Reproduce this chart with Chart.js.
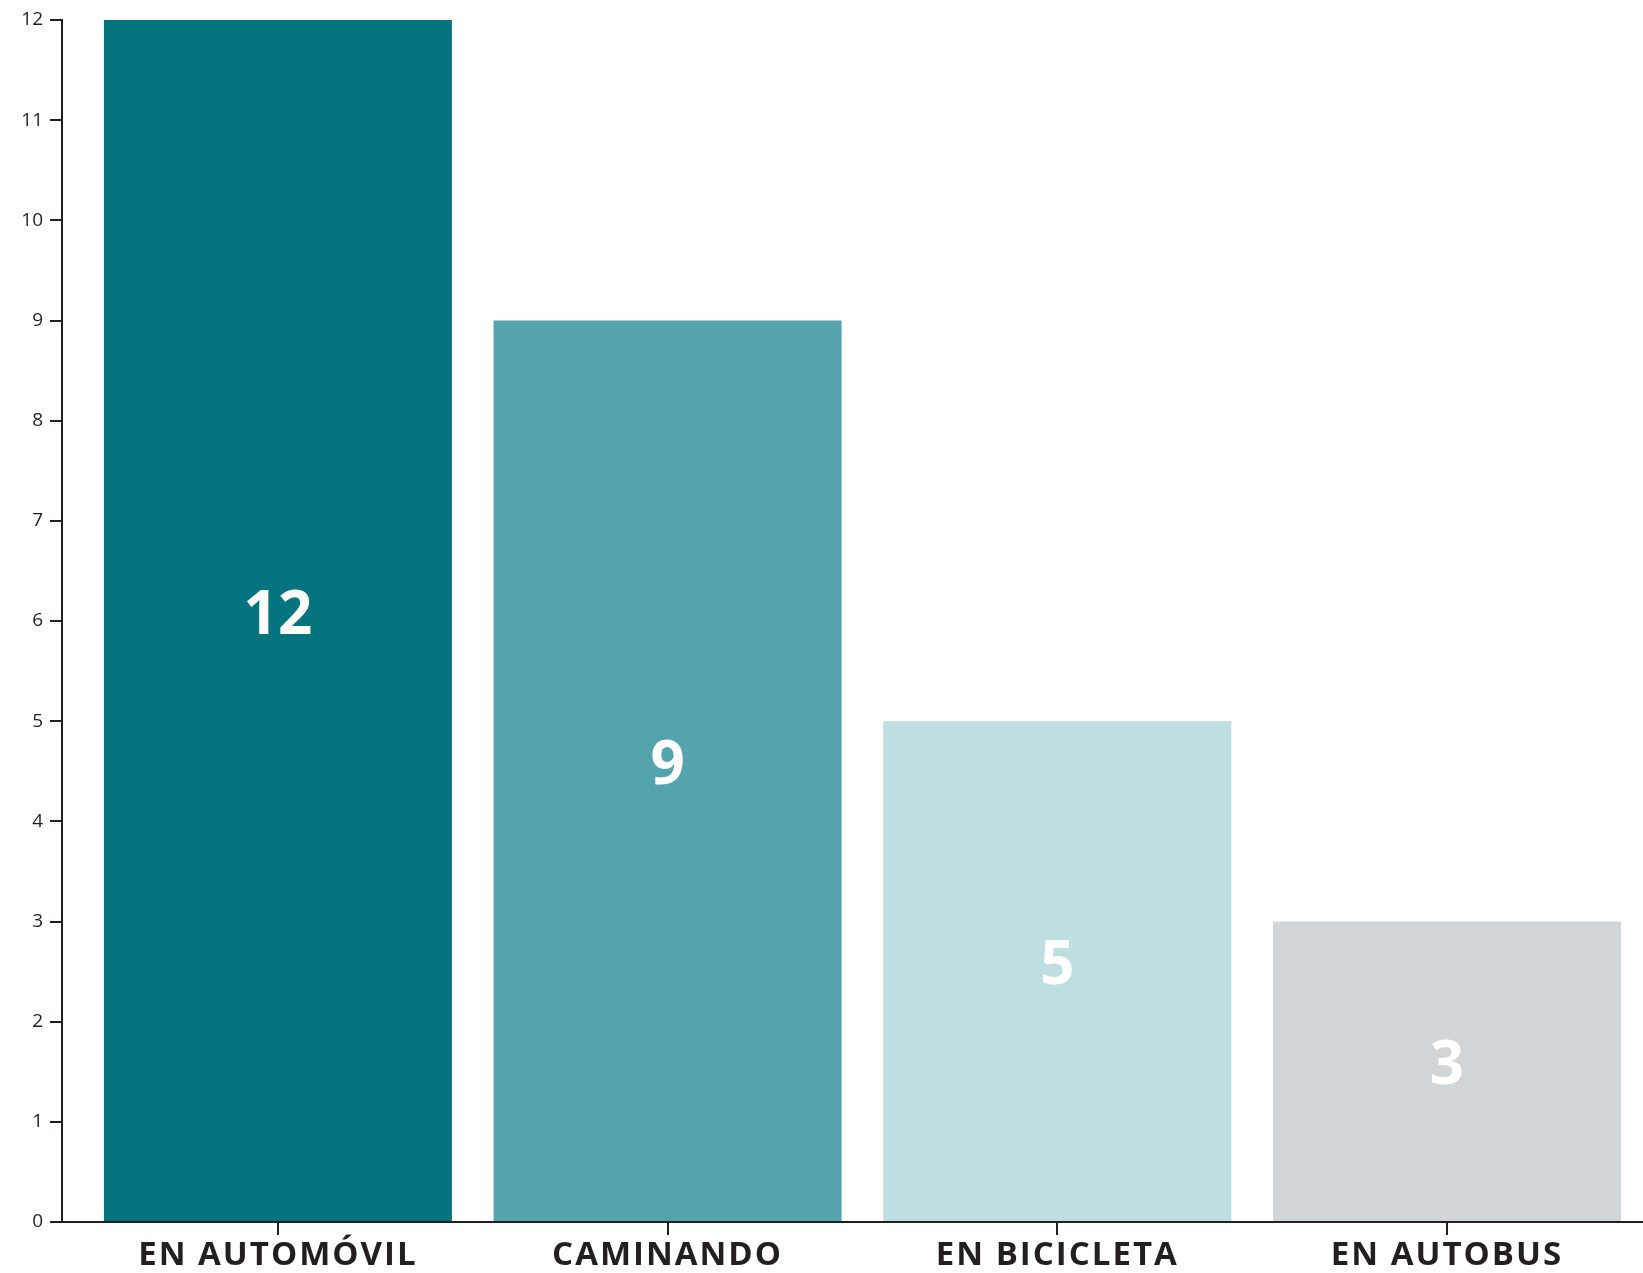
<!DOCTYPE html>
<html>
<head>
<meta charset="utf-8">
<script src="https://cdn.jsdelivr.net/npm/chart.js@4.4.1/dist/chart.umd.min.js"></script>
<style>
  html, body { margin: 0; padding: 0; background: #fff; }
  #wrap { width: 1643px; height: 1273px; position: relative; }
</style>
</head>
<body>
<div id="wrap"><canvas id="chartModos"></canvas></div>
<script>
// data
var categories = ['EN AUTOMÓVIL', 'CAMINANDO', 'EN BICICLETA', 'EN AUTOBUS'];
var values = [12, 9, 5, 3];
var barColors = ['#03747d', '#55a4ad', '#bedee2', '#d1d5d8'];
var yTickValues = [0, 1, 2, 3, 4, 5, 6, 7, 8, 9, 10, 11, 12];

var inkColor = '#231f20';

Chart.defaults.font.family = "'Open Sans', sans-serif";
Chart.defaults.color = inkColor;

// wider tracking for the category labels (x axis is drawn before the bars)
var labelTracking = {
    id: 'labelTracking',
    beforeDraw: function (chart) { chart.ctx.letterSpacing = '2px'; },
    beforeDatasetsDraw: function (chart) { chart.ctx.letterSpacing = '0px'; }
};

// white value labels inside each bar
var valueLabels = {
    id: 'valueLabels',
    afterDatasetsDraw: function (chart) {
        var ctx = chart.ctx;
        var meta = chart.getDatasetMeta(0);
        ctx.save();
        ctx.fillStyle = '#ffffff';
        ctx.font = "bold 60px 'Open Sans', sans-serif";
        ctx.textAlign = 'center';
        ctx.textBaseline = 'middle';
        meta.data.forEach(function (bar, i) {
            ctx.fillText(String(values[i]), bar.x, (bar.y + bar.base) / 2 - 4);
        });
        ctx.restore();
    }
};

var ctxEl = document.getElementById('chartModos');
new Chart(ctxEl.getContext('2d'), {
    type: 'bar',
    data: {
        datasets: [{
            data: values.map(function (v, i) { return { x: i, y: v }; }),
            backgroundColor: barColors,
            borderWidth: 0,
            categoryPercentage: 1,
            barPercentage: 0.893
        }]
    },
    options: {
        responsive: true, maintainAspectRatio: false, animation: false,
        layout: { padding: { top: 20, right: 0, left: 0, bottom: 0 } },
        plugins: { legend: { display: false }, tooltip: { enabled: false } },
        scales: {
            x: {
                type: 'linear', min: -0.554, max: 3.503, offset: false,
                afterBuildTicks: function (scale) {
                    scale.ticks = categories.map(function (c, i) { return { value: i }; });
                },
                afterFit: function (scale) { scale.height = 51; },
                grid: { display: true, offset: false, drawOnChartArea: false, drawTicks: true, tickLength: 13, color: inkColor, lineWidth: 2 },
                border: { display: true, color: inkColor, width: 2 },
                ticks: {
                    padding: 1, maxRotation: 0, autoSkip: false,
                    font: { size: 33, weight: 'bold' }, color: inkColor,
                    callback: function (v) { return categories[v]; }
                }
            },
            y: {
                min: 0, max: 12,
                afterBuildTicks: function (scale) {
                    scale.ticks = yTickValues.map(function (v) { return { value: v }; });
                },
                afterFit: function (scale) { scale.width = 62; },
                grid: { display: true, drawOnChartArea: false, drawTicks: true, tickLength: 12, color: inkColor, lineWidth: 2 },
                border: { display: true, color: inkColor, width: 2 },
                ticks: { z: 1, padding: 7, font: { size: 19 }, color: inkColor }
            }
        }
    },
    plugins: [labelTracking, valueLabels]
});
</script>
</body>
</html>
